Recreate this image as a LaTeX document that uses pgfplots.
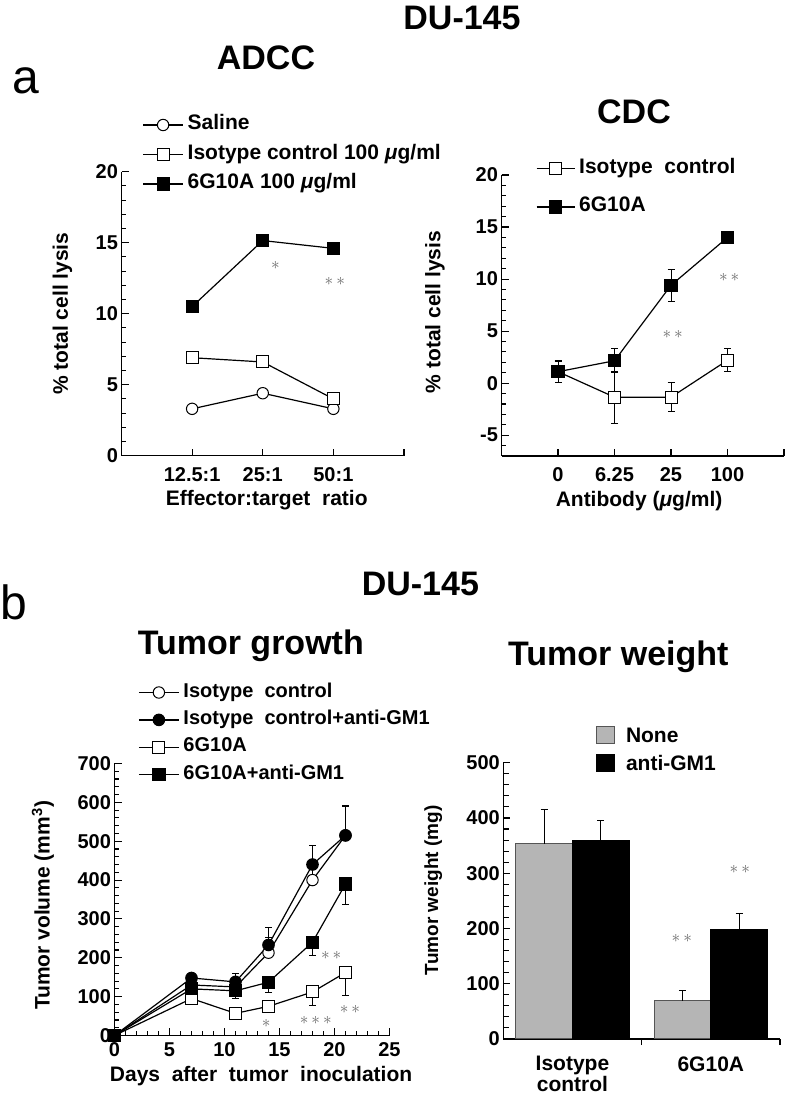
\documentclass[border=0pt]{standalone}
\usepackage{fontspec}
\setmainfont{Liberation Sans}
\usepackage{pgfplots}
\pgfplotsset{compat=1.18}
\definecolor{bargray}{RGB}{181,181,181}
\definecolor{baredge}{RGB}{85,85,85}
\definecolor{stargray}{RGB}{105,105,105}
\newcommand{\fs}[1]{\fontsize{#1}{#1}\selectfont}
\newcommand{\sast}{{\fs{17}\color{stargray}$\ast$}}

\pgfplotsset{
  base/.style={
    scale only axis, anchor=south west, clip=false,
    axis x line*=bottom, axis y line*=left,
    axis line style={line width=1.3pt,-},
    tick style={line width=1.1pt,black},
    major tick length=7pt, minor tick length=4.5pt,
    tick align=inside,
    tick label style={font=\fs{20}\bfseries},
    /pgf/number format/assume math mode=true,
    label style={font=\fs{21}\bfseries},
    legend cell align=left,
    legend style={draw=none, fill=none, inner sep=0pt, outer sep=0pt,
      column sep=4pt, font=\fs{21}\bfseries,
      nodes={inner sep=0pt, text height=15pt, text depth=5pt}},
  },
  linelegend/.style={legend image code/.code={%
    \draw[mark repeat=2,mark phase=2,##1] plot coordinates {(0pt,0pt) (#1pt,0pt) (2*#1pt,0pt)};}},
  oc/.style={black, line width=1.2pt, mark=*, mark size=5.7pt, mark options={fill=white, line width=1pt, solid}},
  fc/.style={black, line width=1.2pt, mark=*, mark size=5.7pt, mark options={fill=black, solid}},
  os/.style={black, line width=1.2pt, mark=square*, mark size=6pt, mark options={fill=white, line width=1pt, solid}},
  fsq/.style={black, line width=1.2pt, mark=square*, mark size=6pt, mark options={fill=black, solid}},
  eb/.style={error bars/.cd, y dir=#1, y explicit, error bar style={line width=1pt, black}, error mark options={rotate=90, mark size=3.5pt, line width=1pt, black}},
}

\begin{document}
\begin{tikzpicture}[x=1pt,y=1pt]
\useasboundingbox (0,0) rectangle (787,1095);

% titles
\node[anchor=base, font=\fs{34}\bfseries] at (462,1065) {DU-145};
\node[anchor=base, font=\fs{34}\bfseries] at (266,1025) {ADCC};
\node[anchor=base, font=\fs{48}] at (26,1001.7) {a};
\node[anchor=base, font=\fs{34}\bfseries] at (634,971.7) {CDC};
\node[anchor=base, font=\fs{34}\bfseries] at (420.4,499) {DU-145};
\node[anchor=base, font=\fs{48}] at (14,475) {b};
\node[anchor=base, font=\fs{34}\bfseries] at (250.8,440.7) {Tumor growth};
\node[anchor=base, font=\fs{34}\bfseries] at (618.3,429) {Tumor weight};

% ---------- ADCC ----------
\begin{axis}[base, at={(121.5pt,639.3pt)}, width=282.5pt, height=284pt,
  xmin=-1, xmax=3, ymin=0, ymax=20,
  xtick={0,1,2,3}, xticklabels={12.5:1,25:1,50:1,{}},
  xticklabel style={yshift=-8.5pt},
  ytick={0,5,10,15,20}, minor y tick num=4,
  xlabel={Effector:target\ \ ratio},
  ylabel={\% total cell lysis},
  xlabel style={at={([yshift=-44pt]axis description cs:0.514,0)}, anchor=center},
  ylabel style={at={([xshift=-59pt]axis description cs:0,0.5)}, anchor=center},
  linelegend=20,
  legend style={at={([xshift=21pt,yshift=56.7pt]axis description cs:0,1)}, anchor=north west, row sep=9.5pt},
]
\addplot[oc] coordinates {(0,3.3) (1,4.4) (2,3.3)};
\addplot[os] coordinates {(0,6.9) (1,6.6) (2,4.0)};
\addplot[fsq] coordinates {(0,10.5) (1,15.15) (2,14.6)};
\legend{Saline, Isotype control 100 \textit{μ}g/ml, 6G10A 100 \textit{μ}g/ml}
\node at (axis cs:1.18,13.4) {\sast};
\node at (axis cs:2.02,12.25) {\sast\hspace{3pt}\sast};
\end{axis}

% ---------- CDC ----------
\begin{axis}[base, at={(501.5pt,639pt)}, width=282.5pt, height=281pt,
  xmin=-1, xmax=4, ymin=-7, ymax=20,
  xtick={0,1,2,3,4}, xticklabels={0,6.25,25,100,{}},
  xticklabel style={yshift=-8.5pt},
  ytick={-5,0,5,10,15,20}, minor ytick={-7,-6,...,20},
  xlabel={Antibody (\textit{μ}g/ml)},
  ylabel={\% total cell lysis},
  xlabel style={at={([yshift=-45pt]axis description cs:0.487,0)}, anchor=center},
  ylabel style={at={([xshift=-66.5pt]axis description cs:0,0.512)}, anchor=center},
  linelegend=19,
  legend style={at={([xshift=34.5pt,yshift=16.7pt]axis description cs:0,1)}, anchor=north west, row sep=18.7pt},
]
\addplot[os, eb=both] coordinates {(0,1.1) +- (0,1.05) (1,-1.35) +- (0,2.5) (2,-1.35) +- (0,1.4) (3,2.2) +- (0,1.1)};
\addplot[fsq, eb=both] coordinates {(0,1.1) +- (0,1.0) (1,2.15) +- (0,1.15) (2,9.4) +- (0,1.55) (3,14.0) +- (0,0)};
\legend{Isotype\ \ control, 6G10A}
\node at (axis cs:2.03,4.64) {\sast\hspace{3pt}\sast};
\node at (axis cs:3.03,10.2) {\sast\hspace{3pt}\sast};
\end{axis}

% ---------- Tumor growth ----------
\begin{axis}[base, at={(114.5pt,59.5pt)}, width=275pt, height=272pt,
  xmin=0, xmax=25, ymin=0, ymax=700,
  xtick={0,5,...,25}, minor x tick num=4,
  xticklabel style={yshift=-4pt},
  ytick={0,100,...,700}, minor y tick num=4,
  xlabel={Days\ \ after\ \ tumor\ \ inoculation},
  ylabel={Tumor volume (mm\textsuperscript{3})},
  xlabel style={at={([yshift=-41pt]axis description cs:0.533,0)}, anchor=center},
  ylabel style={at={([xshift=-71.5pt]axis description cs:0,0.478)}, anchor=center},
  linelegend=20,
  legend style={font=\fs{20}\bfseries, nodes={text height=14pt, text depth=5pt},
    at={([xshift=23.8pt,yshift=80.5pt]axis description cs:0,1)}, anchor=north west, row sep=8.4pt},
]
\addplot[oc, eb=plus] coordinates {(0,0) +- (0,0) (7,130) +- (0,10) (11,125) +- (0,15) (14,213) +- (0,40) (18,400) +- (0,30) (21,515) +- (0,75)};
\addplot[fc, eb=plus] coordinates {(0,0) +- (0,0) (7,148) +- (0,12) (11,138) +- (0,22) (14,233) +- (0,45) (18,440) +- (0,48) (21,515) +- (0,78)};
\addplot[os, eb=minus] coordinates {(0,0) +- (0,0) (7,95) +- (0,8) (11,57) +- (0,5) (14,75) +- (0,10) (18,112) +- (0,36) (21,162) +- (0,58)};
\addplot[fsq, eb=minus] coordinates {(0,0) +- (0,0) (7,120) +- (0,10) (11,115) +- (0,21) (14,137) +- (0,27) (18,240) +- (0,33) (21,390) +- (0,53)};
\legend{Isotype\ \ control, Isotype\ \ control+anti-GM1, 6G10A, 6G10A+anti-GM1}
\node at (axis cs:13.8,30) {\sast};
\node at (axis cs:18.3,38) {\sast\hspace{3pt}\sast\hspace{3pt}\sast};
\node at (axis cs:19.7,207) {\sast\hspace{3pt}\sast};
\node at (axis cs:21.4,66) {\sast\hspace{3pt}\sast};
\end{axis}

% ---------- Tumor weight ----------
\begin{axis}[base, at={(503.3pt,56pt)}, width=276.7pt, height=276.3pt,
  xmin=-0.5, xmax=1.5, ymin=0, ymax=500,
  ybar=0pt, bar width=0.41,
  xtick={0,1}, xticklabels={{Isotype\\control},{6G10A}},
  xticklabel style={align=center, font=\fs{21}\bfseries, yshift=-7pt},
  every major x tick/.append style={draw=none},
  minor xtick={0.5,1.5}, minor tick length=6pt,
  ytick={0,100,...,500}, minor y tick num=4,
  ylabel={Tumor weight (mg)},
  ylabel style={font=\fs{19}\bfseries, at={([xshift=-70pt]axis description cs:0,0.538)}, anchor=center},
  legend image code/.code={\draw[#1] (0pt,-6.5pt) rectangle (18pt,10.5pt);},
  legend style={nodes={text height=16pt, text depth=5pt}, column sep=11pt,
    at={([xshift=92.7pt,yshift=36.2pt]axis description cs:0,1)}, anchor=north west, row sep=6.5pt},
]
\addplot[fill=bargray, draw=baredge, line width=1pt, eb=plus] coordinates {(0,353) +- (0,62) (1,69) +- (0,19)};
\addplot[fill=black, draw=black, line width=1pt, eb=plus] coordinates {(0,360) +- (0,35) (1,198) +- (0,29)};
\legend{None, anti-GM1}
\node at (axis cs:0.79,181) {\sast\hspace{3pt}\sast};
\node at (axis cs:1.21,307.6) {\sast\hspace{3pt}\sast};
\end{axis}
\end{tikzpicture}
\end{document}
